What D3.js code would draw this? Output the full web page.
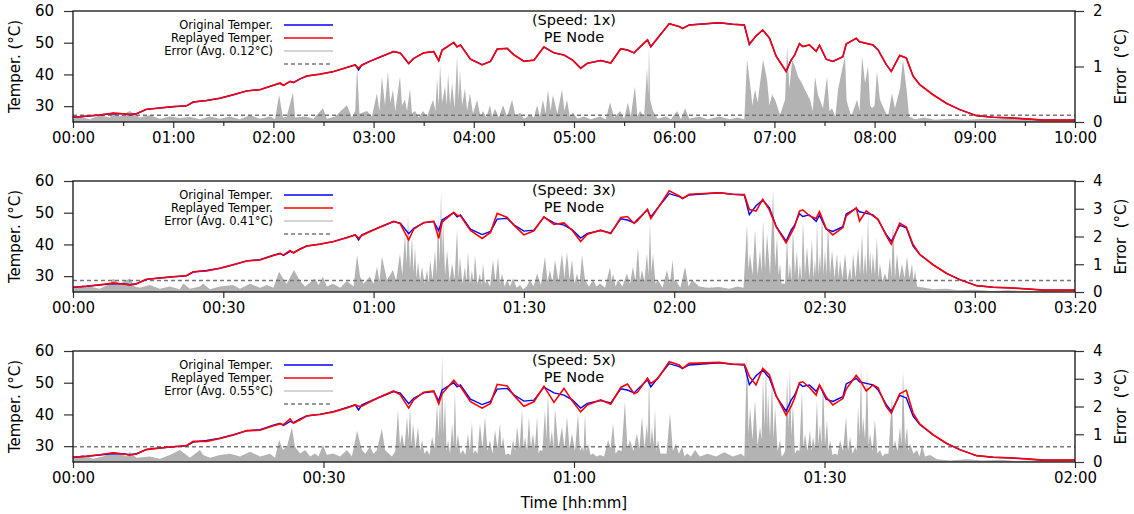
<!DOCTYPE html>
<html>
<head>
<meta charset="utf-8">
<script src="https://cdn.jsdelivr.net/npm/d3@7"></script>
<style>
    body { margin: 0; background: #fff; }
    svg text { font-family: "DejaVu Sans", sans-serif; fill: #000; }
</style>
</head>
<body>
<svg id="chart" width="1134" height="514"></svg>
<script>
// trace time (minutes of the 1x recording); replay time = trace / speed
const tempMin = [
    0, 8, 16, 24, 30, 34, 38, 44, 52, 60,
    68, 72, 80, 88, 96, 104, 112, 120, 124, 126,
    130, 132, 136, 140, 148, 156, 164, 169, 171, 173,
    178, 184, 192, 196, 201, 204, 210, 216, 219, 221,
    228, 230, 232, 238, 245, 250, 254, 260, 264, 270,
    276, 282, 288, 294, 299, 304, 308, 316, 322, 328,
    332, 336, 338, 344, 346, 350, 357, 363, 365, 369,
    387, 395, 402, 405, 409, 413, 417, 421, 427, 430,
    432, 435, 437, 441, 445, 447, 451, 455, 461, 463,
    469, 471, 475, 479, 482, 487, 490, 495, 499, 503,
    507, 515, 523, 531, 541, 551, 561, 571, 581, 600
];
const origTemp = [
    26.5, 26.8, 27.2, 27.7, 27.6, 27.3, 27.6, 29.0, 29.4, 29.8,
    30.1, 31.3, 31.8, 32.5, 33.6, 34.8, 35.2, 36.6, 37.2, 36.5,
    37.8, 37.4, 38.6, 39.5, 40.1, 40.9, 42.2, 43.0, 41.4, 43.0,
    44.2, 45.5, 47.2, 46.7, 43.4, 45.1, 46.8, 47.2, 44.3, 47.7,
    50.0, 48.7, 49.3, 44.8, 43.1, 44.1, 48.0, 48.2, 46.2, 44.2,
    44.5, 48.6, 46.8, 46.1, 44.6, 42.0, 43.5, 44.4, 43.6, 48.1,
    47.7, 46.8, 47.9, 50.9, 48.7, 51.4, 56.0, 55.1, 54.5, 55.6,
    56.3, 55.8, 55.6, 49.4, 52.2, 54.0, 51.5, 45.8, 41.0, 44.5,
    46.0, 49.7, 48.8, 49.3, 47.3, 49.2, 44.8, 44.1, 45.6, 49.6,
    51.4, 50.3, 49.8, 49.3, 47.8, 43.1, 41.0, 46.0, 45.2, 39.5,
    36.8, 33.6, 30.9, 28.9, 27.0, 26.5, 26.3, 26.0, 25.6, 25.6
];
const replay1x = [
    26.5, 26.9, 27.2, 27.8, 27.6, 27.4, 27.6, 29.0, 29.4, 29.9,
    30.1, 31.3, 31.8, 32.5, 33.6, 34.8, 35.2, 36.6, 37.3, 36.6,
    37.8, 37.5, 38.6, 39.5, 40.1, 40.9, 42.2, 43.0, 42.0, 42.9,
    44.2, 45.5, 47.2, 46.8, 43.5, 45.0, 46.8, 47.2, 44.4, 47.6,
    50.1, 48.7, 49.3, 44.8, 43.0, 44.1, 48.0, 48.2, 46.2, 44.1,
    44.5, 48.7, 46.8, 46.1, 44.6, 41.9, 43.5, 44.4, 43.6, 48.1,
    47.7, 46.8, 47.9, 50.9, 48.8, 51.4, 56.0, 55.1, 54.5, 55.6,
    56.3, 55.8, 55.6, 49.6, 52.1, 54.0, 51.5, 45.8, 40.9, 44.5,
    46.0, 49.7, 48.8, 49.3, 47.3, 49.2, 44.8, 44.1, 45.6, 49.6,
    51.4, 50.3, 49.8, 49.3, 47.8, 43.1, 40.9, 46.0, 45.2, 39.5,
    36.8, 33.6, 30.9, 28.9, 27.0, 26.5, 26.3, 26.0, 25.6, 25.6
];
const replay3x = [
    26.5, 26.8, 27.3, 27.8, 27.5, 27.2, 27.6, 29.0, 29.4, 29.8,
    30.2, 31.4, 31.6, 32.5, 33.6, 34.8, 35.1, 36.5, 37.1, 36.7,
    38.1, 37.3, 38.5, 39.5, 40.1, 40.9, 42.1, 43.0, 42.0, 42.8,
    44.1, 45.5, 47.3, 46.5, 41.4, 44.8, 46.9, 47.3, 41.9, 47.0,
    50.1, 49.2, 49.0, 44.4, 41.9, 43.8, 49.8, 48.5, 46.1, 43.0,
    44.3, 48.7, 46.3, 46.8, 44.4, 40.9, 43.2, 44.5, 43.4, 48.5,
    48.8, 46.6, 47.5, 51.1, 48.2, 51.3, 56.9, 55.3, 54.5, 55.8,
    56.3, 55.8, 55.7, 51.0, 50.5, 54.2, 50.9, 45.6, 40.5, 43.5,
    45.5, 50.5, 50.9, 49.0, 48.2, 50.3, 45.0, 43.0, 45.3, 49.0,
    51.5, 47.4, 50.6, 49.0, 48.0, 42.8, 40.1, 46.7, 45.5, 40.0,
    36.9, 33.6, 30.9, 28.9, 27.0, 26.5, 26.3, 26.0, 25.6, 25.6
];
const replay5x = [
    26.5, 26.8, 27.3, 27.9, 27.5, 27.2, 27.5, 28.9, 29.4, 29.8,
    30.2, 31.5, 31.5, 32.4, 33.5, 34.9, 35.0, 36.4, 37.0, 36.8,
    38.6, 37.2, 38.3, 39.6, 40.0, 40.8, 42.0, 43.0, 42.6, 42.6,
    44.0, 45.6, 47.4, 46.2, 42.0, 44.6, 47.0, 47.4, 43.3, 46.5,
    50.8, 49.5, 48.8, 44.0, 42.0, 43.5, 49.5, 49.0, 46.0, 42.6,
    44.0, 48.9, 43.8, 48.2, 44.2, 40.8, 43.0, 44.6, 43.2, 48.5,
    49.6, 46.5, 47.0, 51.4, 49.8, 51.2, 56.6, 55.6, 54.5, 56.1,
    56.4, 55.8, 55.8, 52.0, 49.3, 54.5, 52.5, 46.0, 39.8, 42.5,
    45.0, 50.0, 50.3, 48.5, 46.1, 49.3, 45.5, 43.0, 45.0, 48.0,
    52.3, 51.0, 47.4, 49.3, 48.5, 42.5, 40.4, 46.5, 47.6, 40.5,
    37.0, 33.6, 30.9, 28.9, 27.0, 26.5, 26.3, 26.0, 25.6, 25.6
];

// [trace minute, error °C]
const err1x = [
    [0,0.06],[4,0.1],[10,0.05],[16,0.12],[22,0.08],[24,0.18],[28,0.1],[34,0.2],[40,0.08],[46,0.12],
    [52,0.06],[58,0.1],[64,0.07],[70,0.09],[76,0.05],[82,0.1],[88,0.06],[94,0.1],[100,0.05],[106,0.12],
    [112,0.06],[118,0.1],[121,0.05],[123.4,0.49],[125.7,0.08],[128,0.1],[131.7,0.53],[133,0.08],[139,0.1],[144,0.06],
    [149.7,0.25],[152,0.06],[157,0.1],[164,0.3],[167,0.08],[169,0.2],[170.1,1.0],[171.5,0.15],[176,0.2],[179,0.1],
    [182,0.52],[183.5,0.2],[185,0.82],[186.8,0.3],[188.6,0.91],[190,0.35],[191.6,0.58],[193,0.2],[195.8,0.82],[197,0.3],
    [198.8,0.4],[200,0.2],[201.8,0.6],[203,0.15],[204.8,0.2],[207,0.08],[209.6,0.2],[212,0.1],[215.6,0.4],[217,0.2],
    [218,0.79],[219,0.3],[219.8,1.03],[221,0.35],[222.8,0.64],[223.8,0.3],[224.6,0.88],[225.8,0.3],[227,0.7],[228.5,0.25],
    [230,1.18],[231,0.4],[231.7,0.94],[233,0.3],[234.7,0.6],[236,0.2],[237.7,0.52],[239.5,0.15],[242,0.4],[244,0.1],
    [245.5,0.2],[247.5,0.08],[249.7,0.3],[251,0.1],[252.7,0.24],[255,0.08],[257.5,0.3],[260,0.1],[262.9,0.4],[265,0.1],
    [267.7,0.17],[270,0.06],[273.7,0.13],[276,0.08],[277.9,0.3],[279.6,0.1],[281.4,0.4],[283,0.15],[284.4,0.58],[286,0.2],
    [287.4,0.49],[290,0.15],[292.8,0.58],[294.3,0.2],[295.8,0.4],[297.5,0.1],[299.4,0.17],[302,0.06],[306,0.1],[310,0.05],
    [315.6,0.1],[319,0.05],[321.6,0.35],[324,0.08],[327.6,0.2],[330,0.06],[332.3,0.35],[334,0.1],[336.5,0.64],[338,0.1],
    [339.5,0.2],[342,0.1],[343.7,0.97],[344.5,0.5],[344.9,1.38],[345.6,0.4],[347.3,0.2],[350,0.06],[355,0.1],[358,0.05],
    [361.7,0.2],[364,0.05],[366.5,0.25],[369,0.06],[375,0.1],[380,0.05],[387,0.1],[393,0.05],[398,0.08],[402,0.05],
    [403.6,1.12],[405.4,0.7],[406.8,0.3],[408.4,0.58],[410,0.35],[411.4,0.7],[413.2,1.12],[415.6,0.76],[417,0.3],[418.6,0.49],
    [420.4,0.4],[423.4,0.13],[426.4,0.4],[427.6,1.36],[429,0.6],[430.6,1.12],[432.3,1.0],[434.1,0.82],[436.5,0.7],[438.3,0.58],
    [441.3,0.4],[443,0.2],[444.3,0.82],[446.1,0.49],[449.1,0.25],[451.5,0.82],[453,0.2],[454.5,0.25],[456.5,0.1],[458.1,0.58],
    [460.5,0.94],[462.3,1.18],[463.2,0.4],[464,0.3],[466,0.1],[469.5,0.4],[471,0.2],[472.5,1.18],[474.3,0.7],[476.1,1.0],
    [477.3,0.3],[478.5,0.25],[480,0.3],[481.4,0.91],[483.2,0.4],[486.2,0.2],[488,0.1],[490.4,0.52],[492.2,0.25],[495.2,0.6],
    [497,1.12],[499.4,0.52],[500.6,0.1],[504,0.05],[510,0.08],[516,0.04],[525,0.06],[535,0.04],[545,0.06],[555,0.05],
    [565,0.07],[575,0.04],[585,0.05],[600,0.03]
];
const err3x = [
    [0,0.15],[10,0.2],[16,0.12],[22,0.3],[24,0.49],[28,0.3],[34,0.49],[37,0.2],[40,0.15],[46,0.25],
    [52,0.12],[58,0.2],[64,0.1],[66,0.31],[70,0.12],[76,0.2],[77.8,0.31],[82,0.1],[88,0.2],[95.8,0.25],
    [100,0.12],[106,0.3],[112,0.15],[116,0.25],[120,0.15],[123.4,0.73],[125.7,0.5],[128,0.3],[132.3,0.79],[136,0.4],
    [139,0.2],[144.9,0.49],[147,0.25],[149.7,0.55],[152,0.2],[155.7,0.3],[160,0.15],[164,0.4],[168,0.2],[170.1,1.33],
    [171.9,0.55],[174,0.3],[177.8,0.55],[180,0.3],[182,0.91],[183.5,0.4],[185,1.27],[188,0.43],[191.6,0.79],[193.5,0.4],
    [195.8,1.39],[197.2,0.6],[198.8,2.11],[199.7,1.0],[200.6,2.77],[201.8,0.8],[203,1.99],[203.9,0.7],[204.8,1.63],[205.7,0.5],
    [206.6,1.09],[207.8,0.4],[209,0.91],[210.5,0.3],[212,0.79],[213,0.35],[213.8,1.15],[215.3,0.45],[216.8,1.51],[217.7,0.6],
    [218.6,2.84],[219.5,1.0],[220.4,3.68],[221,1.2],[221.6,2.59],[222.8,0.6],[224,1.51],[225.5,0.4],[227,1.03],[228.5,0.45],
    [230,2.29],[230.9,0.5],[231.7,1.27],[233.2,0.3],[234.7,0.91],[235.6,0.35],[236.5,1.45],[237.7,0.3],[238.9,0.79],[239.8,0.3],
    [240.7,1.33],[242.2,0.3],[243.7,0.67],[244.6,0.25],[245.5,1.03],[246.7,0.3],[247.9,0.43],[249.7,0.2],[251.5,1.15],[253,0.35],
    [254.5,1.27],[255.7,0.3],[256.9,0.67],[258.4,0.2],[259.9,0.43],[261.7,0.2],[263.5,0.5],[265.6,0.15],[267.7,0.25],[269.5,0.1],
    [271.6,0.2],[273.7,0.43],[275.8,0.2],[277.9,0.67],[280.2,0.25],[282.6,1.27],[284.1,0.4],[285.6,0.79],[287.1,0.35],[288.6,1.15],
    [290.7,0.4],[292.8,1.39],[294.3,0.5],[295.8,1.45],[297.3,0.45],[298.8,1.15],[300.3,0.3],[301.8,0.67],[303.3,0.3],[304.8,1.33],
    [306.6,0.43],[309,0.2],[311.4,0.43],[313.5,0.2],[315.6,0.31],[318.6,0.15],[321.6,0.91],[322.5,0.4],[323.4,0.67],[324.9,0.2],
    [326.4,0.43],[329,0.2],[331.7,0.67],[333.5,0.3],[335.3,0.91],[336.8,0.4],[338.3,1.63],[339.5,0.4],[340.7,0.79],[342.2,0.4],
    [343.7,1.39],[344.6,0.6],[345.5,2.47],[346.4,0.7],[347.3,1.39],[348.8,0.3],[350.3,0.43],[353,0.15],[355.7,0.79],[357.4,0.3],
    [359.1,1.15],[360,0.4],[360.9,0.43],[363.7,0.15],[366.5,0.91],[368.6,0.2],[370.7,0.43],[375,0.2],[380,0.15],[387,0.18],
    [393,0.12],[398,0.2],[401.5,0.15],[403.6,2.41],[404.5,0.8],[405.4,1.39],[406.9,0.6],[408.4,2.23],[409.9,0.6],[411.4,1.51],
    [412.3,0.7],[413.2,2.59],[414.4,0.8],[415.6,2.11],[417.4,0.6],[419.2,3.68],[420.4,0.9],[421.6,1.99],[422.5,0.6],[423.4,1.03],
    [424.3,0.3],[425.2,0.31],[426.4,0.3],[427.6,1.99],[428.5,0.5],[429.3,1.03],[430.2,0.4],[431.1,2.35],[432.3,0.6],[433.5,1.51],
    [434.4,0.4],[435.3,1.03],[436.2,0.4],[437.1,2.59],[438.3,0.6],[439.5,1.63],[441,0.5],[442.5,1.87],[443.4,0.5],[444.3,1.15],
    [444.9,0.6],[445.5,2.59],[446.4,0.6],[447.3,1.39],[447.9,0.7],[448.5,3.2],[449.4,0.6],[450.3,1.51],[451.2,0.6],[452.1,2.59],
    [453.3,0.6],[454.5,1.51],[456,0.5],[457.5,1.39],[458.4,0.5],[459.3,1.15],[460.8,0.5],[462.3,1.39],[463.8,0.4],[465.3,0.91],
    [466.2,0.4],[467.1,1.39],[468.6,0.5],[470.1,1.63],[471.3,0.6],[472.5,2.11],[473.4,0.6],[474.3,1.39],[475.2,0.6],[476.1,2.84],
    [476.7,0.8],[477.3,1.51],[478.2,0.6],[479,1.4],[480.2,0.6],[481.4,1.99],[482.3,0.5],[483.2,1.03],[484.7,0.4],[486.2,0.67],
    [487.7,0.4],[489.2,1.27],[490.1,0.5],[491,2.59],[492.2,0.5],[493.4,1.39],[494.9,0.5],[496.4,1.03],[497.9,0.5],[499.4,1.27],
    [500.9,0.5],[502.4,1.03],[503.3,0.4],[504.2,0.79],[505.4,0.2],[510,0.15],[515,0.1],[523,0.12],[530,0.06],[540,0.08],
    [550,0.04],[560,0.06],[570,0.03],[585,0.04],[600,0.02]
];
const err5x = [
    [0,0.15],[6,0.25],[12,0.12],[18,0.2],[24,0.37],[28,0.31],[32,0.2],[34,0.37],[38,0.15],[46,0.2],
    [52,0.12],[58,0.25],[64,0.43],[67,0.3],[70,0.15],[76,0.43],[78,0.25],[82,0.15],[88,0.25],[94,0.3],
    [100,0.2],[106,0.37],[112,0.2],[118,0.3],[121,0.15],[123.4,0.79],[125.7,0.43],[128.1,0.55],[131.1,1.25],[132.9,0.55],
    [136,0.31],[139,0.43],[142,0.2],[144.9,0.31],[147,0.2],[149.7,0.61],[152,0.25],[155.7,0.31],[160,0.2],[164,0.43],
    [167,0.2],[170.1,1.13],[173,0.43],[175,0.3],[177.8,0.55],[180,0.3],[182,0.43],[185,1.21],[186.8,0.43],[191,0.2],
    [193,0.4],[194.6,1.87],[195.8,0.6],[197,1.03],[198.5,0.5],[200,1.63],[200.9,0.8],[201.8,1.99],[202.7,0.6],[203.6,1.39],
    [205.1,0.5],[206.6,1.27],[207.8,0.4],[209,0.79],[210.5,0.3],[212,0.43],[213.5,0.25],[215,0.91],[216.5,0.5],[218,2.11],
    [218.9,0.9],[219.8,2.35],[220.4,1.0],[221,3.86],[221.9,1.0],[222.8,2.23],[223.7,0.4],[224.6,0.79],[225.8,0.3],[227,1.39],
    [227.8,0.6],[228.7,2.59],[229.6,0.5],[230.5,1.03],[232,0.3],[233.5,0.43],[235,0.25],[236.5,1.03],[237.7,0.4],[238.9,1.45],
    [239.8,0.3],[240.7,0.43],[242.2,0.3],[243.7,1.39],[245.2,0.5],[246.7,1.63],[248.2,0.4],[249.7,0.79],[251.2,0.3],[252.7,1.15],
    [254.2,0.5],[255.7,1.39],[256.6,0.5],[257.5,0.91],[259,0.25],[260.5,0.31],[262,0.25],[263.5,0.79],[264.7,0.4],[265.9,1.27],
    [267.4,0.5],[268.9,1.87],[269.8,0.5],[270.7,0.91],[271.9,0.4],[273,1.63],[274.2,0.5],[275.4,1.03],[276.6,0.5],[277.9,1.63],
    [278.8,0.3],[279.6,0.43],[281.1,0.4],[282.6,1.87],[283.5,0.8],[284.4,2.47],[285.6,0.6],[286.8,1.15],[287.7,0.5],[288.6,1.93],
    [290.7,0.5],[292.8,1.27],[294.3,0.5],[295.8,1.63],[297.3,0.5],[298.8,1.03],[300.6,0.4],[302.4,1.75],[303.6,0.4],[304.8,0.55],
    [305.7,0.4],[306.6,1.75],[307.5,0.4],[308.4,0.67],[309.9,0.25],[311.4,0.31],[313.5,0.2],[315.6,0.25],[318,0.2],[320.4,0.79],
    [321.9,0.5],[323.4,1.39],[324.9,0.3],[326.4,0.43],[328.5,0.4],[330.5,2.17],[332,0.5],[333.5,0.79],[335.6,0.4],[337.7,1.03],
    [339.2,0.5],[340.7,1.63],[342.2,0.5],[343.7,1.39],[344.3,0.8],[344.9,3.2],[345.8,0.6],[346.7,1.27],[347.6,0.6],[348.5,1.87],
    [349.4,0.4],[350.3,0.79],[351.8,0.3],[353.3,0.31],[355.4,0.3],[357.5,1.75],[359.2,0.4],[360.9,0.67],[362.8,0.3],[364.7,0.55],
    [366.2,0.2],[367.7,0.31],[370,0.2],[372.5,0.43],[375.4,0.2],[380,0.3],[385,0.2],[390,0.35],[395,0.2],[400,0.3],
    [402,0.2],[403.6,3.86],[404.5,1.0],[405.4,1.99],[406.9,0.8],[408.4,2.23],[409.9,0.6],[411.4,1.27],[412.3,0.8],[413.2,3.07],
    [414.1,1.2],[415,3.68],[415.6,1.2],[416.2,2.47],[417.4,0.9],[418.6,2.95],[419.5,0.8],[420.4,1.99],[421.9,0.4],[423.4,0.79],
    [424.3,0.2],[425.2,0.25],[426.4,0.4],[427.6,3.07],[428.5,1.2],[429.3,3.38],[430.2,0.9],[431.1,2.11],[432.3,0.3],[433.5,0.43],
    [435,0.4],[436.5,2.59],[437.4,0.5],[438.3,1.03],[439.8,0.4],[441.3,1.15],[442.2,0.4],[443.1,0.91],[444.3,0.5],[445.5,2.23],
    [446.4,0.6],[447.3,1.39],[448.2,0.6],[449.1,3.07],[450.3,0.6],[451.5,1.51],[452.4,0.4],[453.3,0.79],[454.8,0.25],[456.3,0.31],
    [457.8,0.25],[459.3,0.79],[461.1,0.4],[462.9,1.63],[464.1,0.4],[465.3,0.91],[466.8,0.3],[468.3,0.55],[469.2,0.4],[470.1,1.99],
    [471,0.9],[471.9,3.56],[472.5,1.0],[473.1,1.63],[474.3,0.8],[475.5,3.32],[476.4,0.6],[477.3,1.03],[478.8,0.4],[480.2,1.51],
    [481.7,0.3],[483.2,0.43],[484.7,0.2],[486.2,0.3],[488.3,0.3],[490.4,2.35],[491.3,0.4],[492.2,0.79],[493.7,0.4],[495.2,1.27],
    [496.1,0.6],[497,3.32],[498.2,0.6],[499.4,1.27],[500.3,0.4],[501.2,0.67],[503.3,0.3],[505.4,0.43],[506.9,0.2],[508.4,0.61],
    [510.2,0.2],[513.2,0.25],[517.4,0.1],[525,0.05],[535,0.1],[545,0.05],[555,0.08],[565,0.04],[580,0.06],[600,0.02]
];

const speeds = [1, 3, 5];
const replays = [replay1x, replay3x, replay5x];
const errors = [err1x, err3x, err5x];
const avgErr = [0.12, 0.41, 0.55];
const errMax = [2, 4, 4];
const tempTicks = [30, 40, 50, 60];
const errTicks = [[0, 1, 2], [0, 1, 2, 3, 4], [0, 1, 2, 3, 4]];
const timeTicks = [
    [0, 60, 120, 180, 240, 300, 360, 420, 480, 540, 600],
    [0, 30, 60, 90, 120, 150, 180, 200],
    [0, 30, 60, 90, 120]
];
const minorTicks = [[30, 90, 150, 210, 270, 330, 390, 450, 510, 570], [], []];

const svg = d3.select("#chart");
const left = 73, right = 1075, panelH = 111;
const tops = [11, 181, 351];

const fmt = m => String(Math.floor(m / 60)).padStart(2, "0") + ":" + String(m % 60).padStart(2, "0");

function styleAxis(g, size) {
    g.select(".domain").remove();
    g.selectAll("line").attr("stroke", "#333").attr("stroke-width", 1.2);
    g.selectAll("text").attr("font-size", size).attr("font-family", "DejaVu Sans");
}

speeds.forEach((speed, i) => {
    const top = tops[i], bottom = top + panelH;
    const x = d3.scaleLinear().domain([0, 600 / speed]).range([left, right]);
    const yT = d3.scaleLinear().domain([25, 60]).range([bottom, top]);
    const yE = d3.scaleLinear().domain([0, errMax[i]]).range([bottom, top]);

    const clipId = "clip" + i;
    svg.append("clipPath").attr("id", clipId)
        .append("rect").attr("x", left).attr("y", top).attr("width", right - left).attr("height", panelH);

    const plot = svg.append("g").attr("clip-path", `url(#${clipId})`);

    // error area
    const area = d3.area()
        .x(d => x(d[0] / speed))
        .y0(yE(0))
        .y1(d => yE(d[1]));
    plot.append("path").datum(errors[i])
        .attr("fill", "#b3b3b3")
        .attr("d", area);

    // average error
    plot.append("line")
        .attr("x1", left).attr("x2", right)
        .attr("y1", yE(avgErr[i])).attr("y2", yE(avgErr[i]))
        .attr("stroke", "#777").attr("stroke-width", 1.5)
        .attr("stroke-dasharray", "4,3");

    const line = vals => d3.line()
        .x((d, k) => x(tempMin[k] / speed))
        .y(d => yT(d))(vals);

    plot.append("path")
        .attr("fill", "none").attr("stroke", "#0000ff").attr("stroke-width", 1.4)
        .attr("d", line(origTemp));
    plot.append("path")
        .attr("fill", "none").attr("stroke", "#ff0000").attr("stroke-width", 1.6)
        .attr("d", line(replays[i]));

    // axes
    svg.append("g")
        .attr("transform", `translate(${left},0)`)
        .call(d3.axisLeft(yT).tickValues(tempTicks).tickSize(9).tickPadding(10))
        .call(g => styleAxis(g, 15));

    svg.append("g")
        .attr("transform", `translate(${right},0)`)
        .call(d3.axisRight(yE).tickValues(errTicks[i]).tickSize(9).tickPadding(9).tickFormat(d3.format("d")))
        .call(g => styleAxis(g, 15));

    svg.append("g")
        .attr("transform", `translate(0,${bottom})`)
        .call(d3.axisBottom(x).tickValues(timeTicks[i]).tickSize(6).tickPadding(4).tickFormat(fmt))
        .call(g => styleAxis(g, 15));

    if (minorTicks[i].length) {
        svg.append("g")
            .attr("transform", `translate(0,${bottom})`)
            .call(d3.axisBottom(x).tickValues(minorTicks[i]).tickSize(4).tickFormat(""))
            .call(g => styleAxis(g, 15));
    }

    // frame
    svg.append("rect")
        .attr("x", left).attr("y", top)
        .attr("width", right - left).attr("height", panelH)
        .attr("fill", "none").attr("stroke", "#111").attr("stroke-width", 1.3);

    // axis titles
    svg.append("text")
        .attr("transform", `translate(15,${top + panelH / 2}) rotate(-90)`)
        .attr("text-anchor", "middle").attr("dominant-baseline", "central")
        .attr("font-size", 15)
        .text("Temper. (°C)");
    svg.append("text")
        .attr("transform", `translate(1121,${top + panelH / 2}) rotate(-90)`)
        .attr("text-anchor", "middle").attr("dominant-baseline", "central")
        .attr("font-size", 15)
        .text("Error\u00a0 (°C)");

    // title
    const mid = (left + right) / 2;
    svg.append("text")
        .attr("x", mid).attr("y", top + 9)
        .attr("text-anchor", "middle").attr("dominant-baseline", "central")
        .attr("font-size", 14.5)
        .text(`(Speed: ${speed}x)`);
    svg.append("text")
        .attr("x", mid).attr("y", top + 26)
        .attr("text-anchor", "middle").attr("dominant-baseline", "central")
        .attr("font-size", 14.5)
        .text("PE Node");

    // legend
    const legend = [
        { label: "Original Temper.", color: "#0000ff", w: 1.4, dash: null },
        { label: "Replayed Temper.", color: "#ff0000", w: 1.6, dash: null },
        { label: `Error (Avg. ${avgErr[i].toFixed(2)}°C)`, color: "#aaa", w: 1.2, dash: null },
        { label: "", color: "#777", w: 1.5, dash: "4,3" }
    ];
    legend.forEach((d, k) => {
        const ly = top + 14 + k * 13;
        svg.append("line")
            .attr("x1", 284).attr("x2", 333).attr("y1", ly).attr("y2", ly)
            .attr("stroke", d.color).attr("stroke-width", d.w)
            .attr("stroke-dasharray", d.dash);
        if (d.label) {
            svg.append("text")
                .attr("x", 273).attr("y", ly)
                .attr("text-anchor", "end").attr("dominant-baseline", "central")
                .attr("font-size", 11.5)
                .text(d.label);
        }
    });
});

svg.append("text")
    .attr("x", (left + right) / 2).attr("y", 503)
    .attr("text-anchor", "middle").attr("dominant-baseline", "central")
    .attr("font-size", 15)
    .text("Time [hh:mm]");
</script>
</body>
</html>
